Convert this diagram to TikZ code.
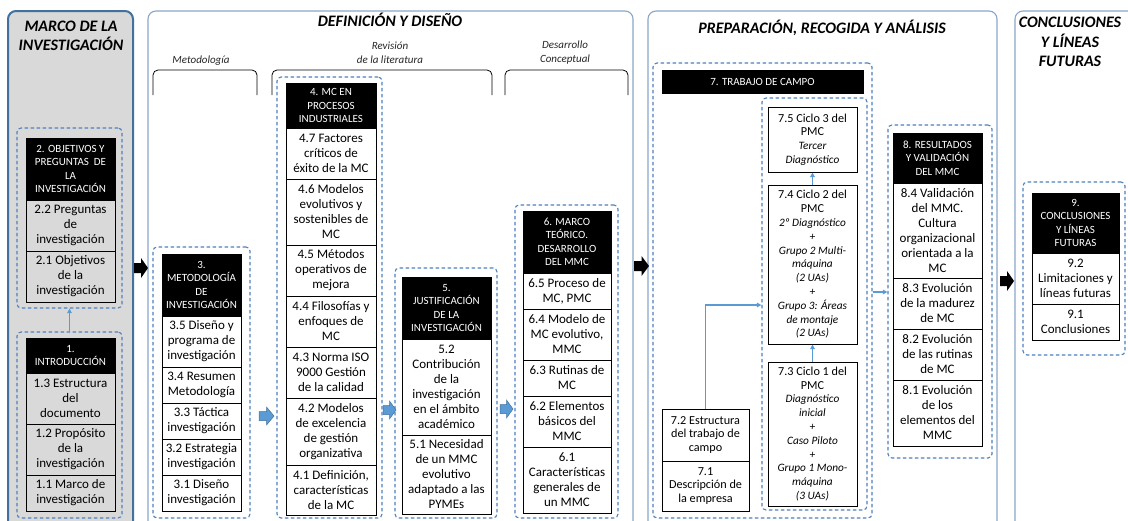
\documentclass[tikz,border=0pt]{standalone}
\usepackage{fontspec}
\setmainfont{Carlito}
\usetikzlibrary{arrows.meta}

\definecolor{panelgray}{HTML}{D9D9D9}
\definecolor{panelrim}{HTML}{41719C}
\definecolor{lightrim}{HTML}{8AA6CC}
\definecolor{dashblue}{HTML}{4F81BD}
\definecolor{linkblue}{HTML}{5B9BD5}
\definecolor{labelgray}{HTML}{262626}

% box from (x1,y1) to (x2,y2): name, x1, y1, x2, y2, style, text
\newcommand\bx[7]{\node[#6, minimum width={(#4)-(#2)}, minimum height={(#5)-(#3)}] (#1) at ({((#2)+(#4))/2},{((#3)+(#5))/2}) {#7};}
% block arrow: x0, centre y, length, height, style
\newcommand\blockarrow[5]{%
  \path[#5] (#1,{#2-0.25*#4}) -- ({#1+0.5*#3},{#2-0.25*#4}) -- ({#1+0.5*#3},{#2-0.5*#4})
    -- ({#1+#3},#2) -- ({#1+0.5*#3},{#2+0.5*#4}) -- ({#1+0.5*#3},{#2+0.25*#4})
    -- (#1,{#2+0.25*#4}) -- cycle;}
\newcommand\itl[1]{{\fontsize{11.3}{13.8}\selectfont\itshape #1}}

\begin{document}
\begin{tikzpicture}[x=1pt,y=-1pt,
  panel/.style={draw=lightrim, line width=1.1, rounded corners=8, fill=white},
  title/.style={font=\fontsize{16}{19.5}\selectfont\bfseries\itshape, align=center, inner sep=0},
  sublabel/.style={font=\fontsize{11}{14}\selectfont\itshape, text=labelgray, align=center, inner sep=0},
  bracket/.style={draw=black, line width=0.8, rounded corners=5},
  grp/.style={draw=dashblue, dash pattern=on 3.5pt off 2.5pt, line width=1.1, rounded corners=4, inner sep=0},
  hdr/.style={draw=black, fill=black, text=white, font=\fontsize{11}{13.4}\selectfont, align=center, inner sep=0},
  wbox/.style={draw=black, fill=white, line width=1, font=\fontsize{13}{15}\selectfont, align=center, inner sep=0},
  gbox/.style={wbox, fill=panelgray},
  cbox/.style={wbox, font=\fontsize{12.2}{13.8}\selectfont},
  conn/.style={draw=linkblue, line width=1.1, -{Triangle[length=4.5pt,width=4.5pt]}},
  blackarrow/.style={fill=black},
  bluearrow/.style={fill=linkblue, draw=panelrim, line width=0.5}
]
\useasboundingbox (0,0) rectangle (1128,520);
\fill[white] (0,0) rectangle (1128,520);
\clip (0,0) rectangle (1128,520);

% ---------- panels ----------
\draw[draw=panelrim, line width=2, fill=panelgray, rounded corners=8] (8,11) rectangle (133,540);
\draw[panel] (148,11) rectangle (633,540);
\draw[panel] (648,11) rectangle (997,540);
\draw[panel] (1015,11) rectangle (1150,540);

\node[title] (tmarco) at (71,36) {MARCO DE LA\\INVESTIGACIÓN};
\node[title] (tdef) at (390,20) {DEFINICIÓN Y DISEÑO};
\node[title] (tprep) at (822,28) {PREPARACIÓN, RECOGIDA Y ANÁLISIS};
\node[title] (tconc) at (1070,42) {CONCLUSIONES\\Y LÍNEAS\\FUTURAS};

% ---------- sub-headings and brackets ----------
\node[sublabel] (lmet) at (201,61) {Metodología};
\node[sublabel] (lrev) at (390,53) {Revisión\\de la literatura};
\node[sublabel] (ldes) at (565,53) {Desarrollo\\Conceptual};
\draw[bracket] (153,95) -- (153,70) -- (257,70) -- (257,95);
\draw[bracket] (272,95) -- (272,70) -- (492,70) -- (492,95);
\draw[bracket] (505,95) -- (505,70) -- (628,70) -- (628,95);

% ---------- dashed groups ----------
\bx{g2}{17}{128}{122}{308}{grp}{}
\bx{g1}{17}{332}{122}{518}{grp}{}
\bx{g3}{153}{247}{250}{518}{grp}{}
\bx{g4}{277}{77}{382}{518}{grp}{}
\bx{g5}{395}{268}{497}{518}{grp}{}
\bx{g6}{515}{205}{618}{518}{grp}{}
\bx{g7}{653}{63}{872}{518}{grp}{}
\bx{g7i}{762}{98}{867}{510}{grp}{}
\bx{g8}{888}{125}{992}{458}{grp}{}
\bx{g9}{1023}{182}{1125}{355}{grp}{}

% ---------- chapter 2 ----------
\bx{h2}{26}{138}{115}{200}{hdr}{2. OBJETIVOS Y\\PREGUNTAS~ DE\\LA\\INVESTIGACIÓN}
\bx{b22}{26}{200}{115}{251}{gbox}{2.2 Preguntas\\de\\investigación}
\bx{b21}{26}{251}{115}{302}{gbox}{2.1 Objetivos\\de la\\investigación}

% ---------- chapter 1 ----------
\bx{h1}{26}{338}{115}{373}{hdr}{1.\\INTRODUCCIÓN}
\bx{b13}{26}{373}{115}{424}{gbox}{1.3 Estructura\\del\\documento}
\bx{b12}{26}{424}{115}{475}{gbox}{1.2 Propósito\\de la\\investigación}
\bx{b11}{26}{475}{115}{511}{gbox}{1.1 Marco de\\investigación}

% ---------- chapter 3 ----------
\bx{h3}{162}{254}{241}{316}{hdr}{3.\\METODOLOGÍA\\DE\\INVESTIGACIÓN}
\bx{b35}{162}{316}{241}{367}{wbox}{3.5 Diseño y\\programa de\\investigación}
\bx{b34}{162}{367}{241}{403}{wbox}{3.4 Resumen\\Metodología}
\bx{b33}{162}{403}{241}{439}{wbox}{3.3 Táctica\\investigación}
\bx{b32}{162}{439}{241}{475}{wbox}{3.2 Estrategia\\investigación}
\bx{b31}{162}{475}{241}{511}{wbox}{3.1 Diseño\\investigación}

% ---------- chapter 4 ----------
\bx{h4}{286}{83}{376}{128}{hdr}{4. MC EN\\PROCESOS\\INDUSTRIALES}
\bx{b47}{286}{128}{376}{179}{wbox}{4.7 Factores\\críticos de\\éxito de la MC}
\bx{b46}{286}{179}{376}{245}{wbox}{4.6 Modelos\\evolutivos y\\sostenibles de\\MC}
\bx{b45}{286}{245}{376}{296}{wbox}{4.5 Métodos\\operativos de\\mejora}
\bx{b44}{286}{296}{376}{347}{wbox}{4.4 Filosofías y\\enfoques de\\MC}
\bx{b43}{286}{347}{376}{398}{wbox}{4.3 Norma ISO\\9000 Gestión\\de la calidad}
\bx{b42}{286}{398}{376}{465}{wbox}{4.2 Modelos\\de excelencia\\de gestión\\organizativa}
\bx{b41}{286}{465}{376}{515}{wbox}{4.1 Definición,\\características\\de la MC}

% ---------- chapter 5 ----------
\bx{h5}{402}{277}{491}{339}{hdr}{5.\\JUSTIFICACIÓN\\DE LA\\INVESTIGACIÓN}
\bx{b52}{402}{339}{491}{435}{wbox}{5.2\\Contribución\\de la\\investigación\\en el ámbito\\académico}
\bx{b51}{402}{435}{491}{514}{wbox}{5.1 Necesidad\\de un MMC\\evolutivo\\adaptado a las\\PYMEs}

% ---------- chapter 6 ----------
\bx{h6}{523}{211}{611}{273}{hdr}{6. MARCO\\TEÓRICO.\\DESARROLLO\\DEL MMC}
\bx{b65}{523}{273}{611}{309}{wbox}{6.5 Proceso de\\MC, PMC}
\bx{b64}{523}{309}{611}{360}{wbox}{6.4 Modelo de\\MC evolutivo,\\MMC}
\bx{b63}{523}{360}{611}{396}{wbox}{6.3 Rutinas de\\MC}
\bx{b62}{523}{396}{611}{447}{wbox}{6.2 Elementos\\básicos del\\MMC}
\bx{b61}{523}{447}{611}{513}{wbox}{6.1\\Características\\generales de\\un MMC}

% ---------- chapter 7 ----------
\bx{h7}{662}{70}{863}{93}{hdr}{7. TRABAJO DE CAMPO}
\bx{b75}{768}{107}{857}{172}{cbox}{7.5 Ciclo 3 del\\PMC\\\itl{Tercer}\\\itl{Diagnóstico}}
\bx{b74}{768}{185}{857}{344}{cbox}{7.4 Ciclo 2 del\\PMC\\\itl{2º Diagnóstico}\\\itl{+}\\\itl{Grupo 2 Multi-}\\\itl{máquina}\\\itl{(2 UAs)}\\\itl{+}\\\itl{Grupo 3: Áreas}\\\itl{de montaje}\\\itl{(2 UAs)}}
\bx{b73}{768}{362}{857}{506}{cbox}{7.3 Ciclo 1 del\\PMC\\\itl{Diagnóstico}\\\itl{inicial}\\\itl{+}\\\itl{Caso Piloto}\\\itl{+}\\\itl{Grupo 1 Mono-}\\\itl{máquina}\\\itl{(3 UAs)}}
\bx{b72}{662}{409}{749}{461}{cbox}{7.2 Estructura\\del trabajo de\\campo}
\bx{b71}{662}{461}{749}{511}{cbox}{7.1\\Descripción de\\la empresa}

% ---------- chapter 8 ----------
\bx{h8}{893}{133}{982}{183}{hdr}{8. RESULTADOS\\Y VALIDACIÓN\\DEL MMC}
\bx{b84}{893}{183}{982}{278}{wbox}{8.4 Validación\\del MMC.\\Cultura\\organizacional\\orientada a la\\MC}
\bx{b83}{893}{278}{982}{329}{wbox}{8.3 Evolución\\de la madurez\\de MC}
\bx{b82}{893}{329}{982}{380}{wbox}{8.2 Evolución\\de las rutinas\\de MC}
\bx{b81}{893}{380}{982}{446}{wbox}{8.1 Evolución\\de los\\elementos del\\MMC}

% ---------- chapter 9 ----------
\bx{h9}{1032}{193}{1119}{253}{hdr}{9.\\CONCLUSIONES\\Y LÍNEAS\\FUTURAS}
\bx{b92}{1032}{253}{1119}{304}{wbox}{9.2\\Limitaciones y\\líneas futuras}
\bx{b91}{1032}{304}{1119}{340}{wbox}{9.1\\Conclusiones}

% ---------- thin connectors ----------
\draw[conn] (g1.north) -- (g2.south);
\draw[conn] (b73.north) -- (b74.south);
\draw[conn] (b74.north) -- (b75.south);
\coordinate (k72) at (0,305);
\draw[conn] (b72.north) |- (g7i.west |- k72);
\coordinate (k78) at (0,292);
\draw[conn] (g7.east |- k78) -- (g8.west |- k78);

% ---------- block arrows ----------
\blockarrow{134}{268}{14}{20}{blackarrow}
\blockarrow{634}{266}{15}{20}{blackarrow}
\blockarrow{1000}{281}{14}{20}{blackarrow}
\blockarrow{259}{416}{15}{18}{bluearrow}
\blockarrow{383}{410}{13}{18}{bluearrow}
\blockarrow{500}{409}{13}{18}{bluearrow}
\end{tikzpicture}
\end{document}
